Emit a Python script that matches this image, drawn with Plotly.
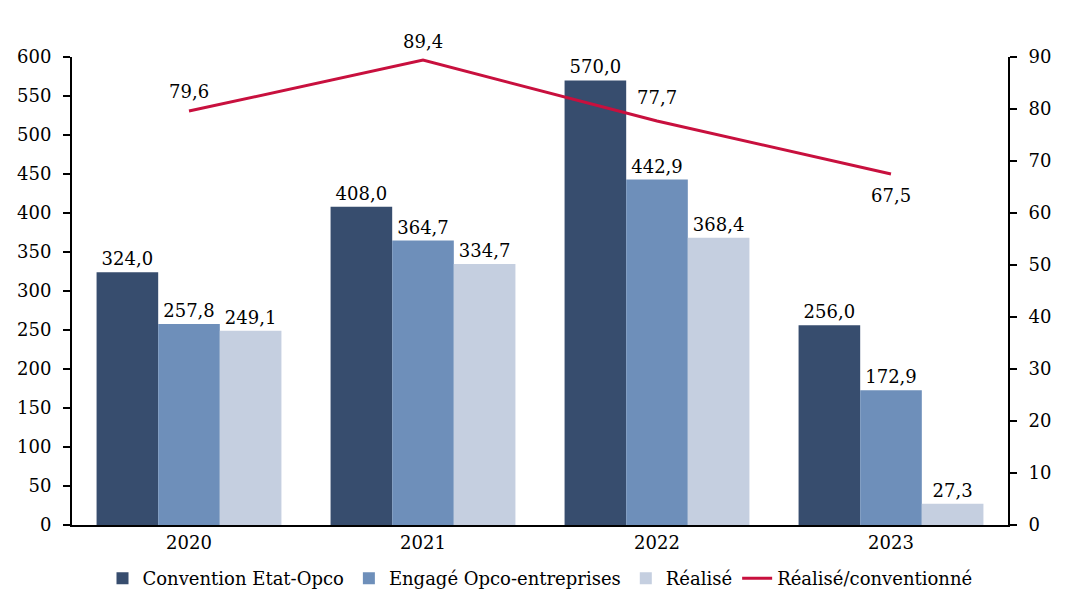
import plotly.graph_objects as go

years = ["2020", "2021", "2022", "2023"]
convention = [324.0, 408.0, 570.0, 256.0]
engage = [257.8, 364.7, 442.9, 172.9]
realise = [249.1, 334.7, 368.4, 27.3]
ratio = [79.6, 89.4, 77.7, 67.5]

FONT = "DejaVu Serif"
FS = 18
ratio_label_shift = [20, 19, 23, -21]

fig = go.Figure()
for name, vals, col in [("Convention Etat-Opco", convention, "#374D6E"),
                        ("Engagé Opco-entreprises", engage, "#6E8FBA"),
                        ("Réalisé", realise, "#C5CFE0")]:
    fig.add_trace(go.Bar(x=years, y=vals, name=name, marker_color=col,
                         marker_line_width=0,
                         texttemplate="%{y:.1f}", textposition="outside",
                         textfont=dict(family=FONT, size=FS, color="black"),
                         cliponaxis=False))

fig.add_trace(go.Scatter(x=years, y=ratio, name="Réalisé/conventionné", yaxis="y2",
                         mode="lines", line=dict(color="#C8103E", width=3),
                         cliponaxis=False))

# category axis: annotation x given as the category index
for i, (v, s) in enumerate(zip(ratio, ratio_label_shift)):
    fig.add_annotation(x=i, y=v, xref="x", yref="y2",
                       text=f"{v:.1f}".replace(".", ","), showarrow=False,
                       yshift=s, font=dict(family=FONT, size=FS, color="black"))

fig.update_layout(
    width=1062, height=598,
    margin=dict(l=64, r=62, t=49, b=81, autoexpand=False),
    plot_bgcolor="white", paper_bgcolor="white",
    separators=", ",
    barmode="group", bargap=0.21, bargroupgap=0,
    font=dict(family=FONT, size=FS, color="black"),
    xaxis=dict(type="category", showline=True, linecolor="black", linewidth=2, ticks="",
               showgrid=False, tickfont=dict(size=FS), automargin=False),
    yaxis=dict(range=[0, 600], dtick=50, showline=True, linecolor="black", linewidth=2,
               ticks="outside", ticklen=7, tickwidth=2, tickcolor="black",
               ticklabelstandoff=8,
               showgrid=False, zeroline=False, tickfont=dict(size=FS), automargin=False),
    yaxis2=dict(range=[0, 90], dtick=10, overlaying="y", side="right",
                showline=True, linecolor="black", linewidth=2,
                ticks="outside", ticklen=7, tickwidth=2, tickcolor="black",
                ticklabelstandoff=8,
                showgrid=False, zeroline=False, tickfont=dict(size=FS), automargin=False),
    legend=dict(orientation="h", x=0.5, xanchor="center", y=-0.075, yanchor="top",
                font=dict(size=FS), traceorder="normal"),
    showlegend=True,
)

fig.write_html("out.html")
